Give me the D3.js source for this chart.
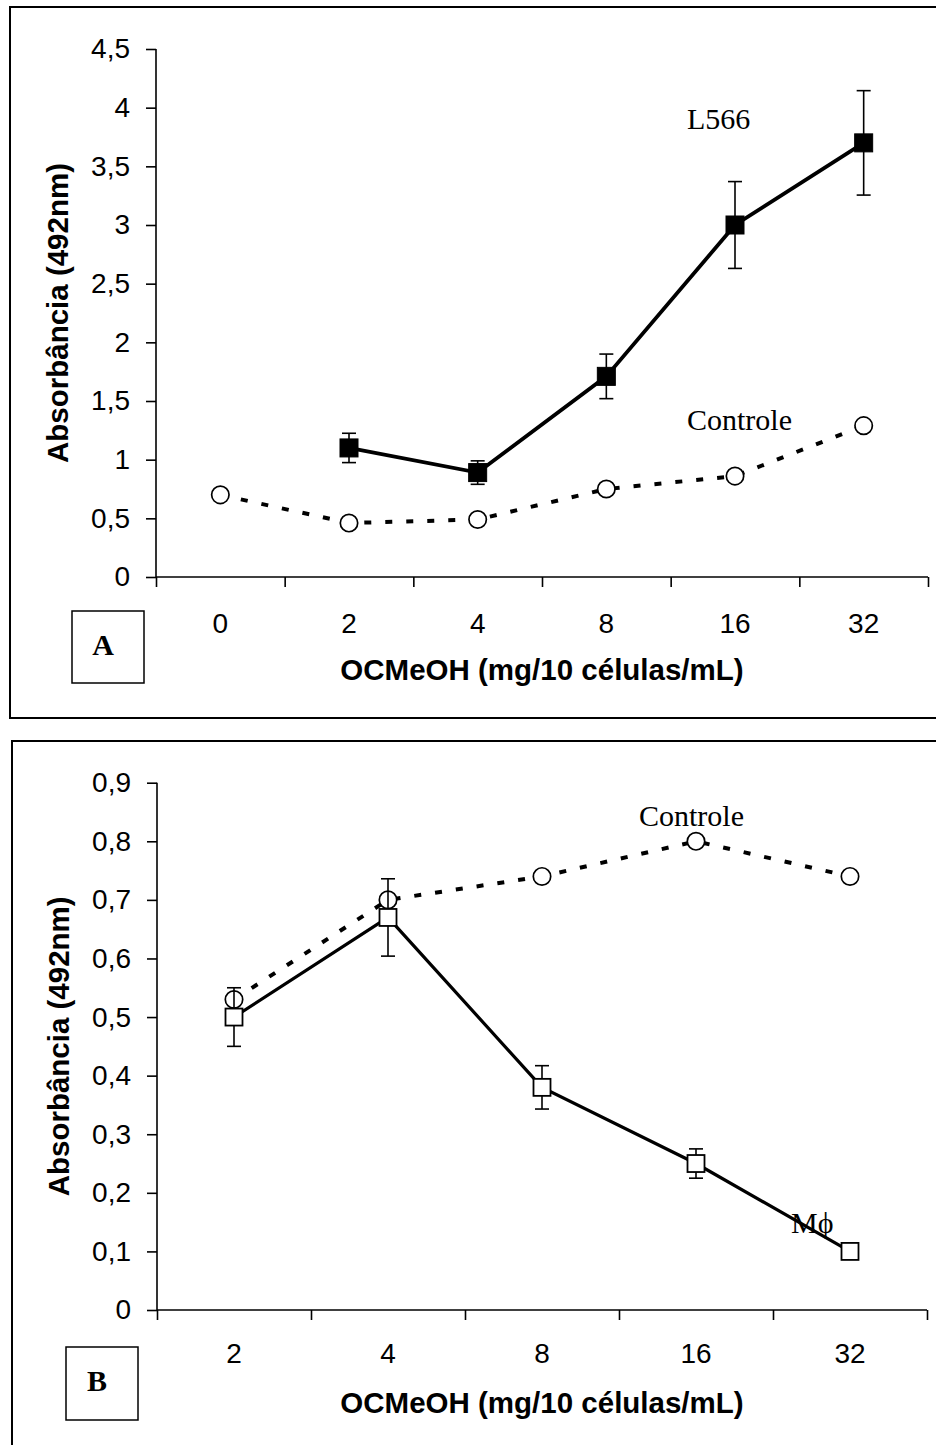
<!DOCTYPE html>
<html>
<head>
<meta charset="utf-8">
<script src="https://cdn.jsdelivr.net/npm/d3@7"></script>
<style>
  html, body { margin: 0; padding: 0; background: #fff; }
  svg { display: block; }
</style>
</head>
<body>
<svg id="fig" width="936" height="1445"></svg>
<script>
// ---- Panel A: L566 cells ----
const catsA = ["0", "2", "4", "8", "16", "32"];
const controleA = [0.70, 0.46, 0.49, 0.75, 0.86, 1.29];
const l566Cats = ["2", "4", "8", "16", "32"];
const l566 = [1.10, 0.89, 1.71, 3.00, 3.70];
const l566Err = [0.125, 0.10, 0.19, 0.37, 0.445];
const yTicksA = [0, 0.5, 1, 1.5, 2, 2.5, 3, 3.5, 4, 4.5];

// ---- Panel B: macrophages ----
const catsB = ["2", "4", "8", "16", "32"];
const controleB = [0.53, 0.70, 0.74, 0.80, 0.74];
const mphi = [0.50, 0.67, 0.38, 0.25, 0.10];
const mphiErr = [0.05, 0.066, 0.037, 0.025, 0];
const yTicksB = [0, 0.1, 0.2, 0.3, 0.4, 0.5, 0.6, 0.7, 0.8, 0.9];

const yTitle = "Absorbância (492nm)";
const xTitle = "OCMeOH (mg/10 células/mL)";

const ptFormat = d3.formatLocale({decimal: ",", thousands: ".", grouping: [3], currency: ["", ""]}).format("~g");

const SANS = "'Liberation Sans', Arial, Helvetica, sans-serif";
const SERIF = "'Liberation Serif', 'Times New Roman', Times, serif";

const svg = d3.select("#fig");

function drawPanel(cfg) {
  const g = svg.append("g");

  // outer frame
  g.append("rect")
    .attr("x", cfg.frame[0]).attr("y", cfg.frame[1])
    .attr("width", cfg.frame[2] - cfg.frame[0]).attr("height", cfg.frame[3] - cfg.frame[1])
    .attr("fill", "none").attr("stroke", "#000").attr("stroke-width", 2);

  const x = d3.scaleBand().domain(cfg.cats).range([cfg.x0, cfg.x1]).paddingInner(0).paddingOuter(0);
  const xEdge = d3.scaleLinear().domain([0, cfg.cats.length]).range([cfg.x0, cfg.x1]);
  const y = d3.scaleLinear().domain([0, cfg.yMax]).range([cfg.yBottom, cfg.yTop]);
  const cx = c => x(c) + x.bandwidth() / 2;

  // y axis
  const ya = g.append("g").attr("transform", `translate(${cfg.x0},0)`)
    .call(d3.axisLeft(y).tickValues(cfg.yTicks).tickSize(10).tickPadding(16).tickFormat(ptFormat));
  ya.selectAll("path, line").attr("stroke", "#000").attr("stroke-width", 1.6);
  ya.select(".domain").attr("d", `M0,${cfg.yTop}V${cfg.yBottom}`);
  ya.selectAll("text").attr("font-family", SANS).attr("font-size", 28).attr("fill", "#000");

  // x axis: ticks between categories
  const xa = g.append("g").attr("transform", `translate(0,${cfg.yBottom})`)
    .call(d3.axisBottom(xEdge).tickValues(d3.range(cfg.cats.length + 1)).tickSize(10).tickFormat(""));
  xa.selectAll("path, line").attr("stroke", "#000").attr("stroke-width", 1.6);
  xa.select(".domain").attr("d", `M${cfg.x0},0H${cfg.x1}`);

  // x category labels
  const xl = g.append("g").attr("transform", `translate(0,${cfg.yBottom})`)
    .call(d3.axisBottom(x).tickSize(0));
  xl.select(".domain").remove();
  xl.selectAll("text")
    .attr("y", cfg.xLabelBase - cfg.yBottom).attr("dy", null)
    .attr("font-family", SANS).attr("font-size", 28).attr("fill", "#000");

  // axis titles
  g.append("text")
    .attr("transform", `translate(${cfg.yTitleX},${(cfg.yTop + cfg.yBottom) / 2}) rotate(-90)`)
    .attr("text-anchor", "middle")
    .attr("font-family", SANS).attr("font-weight", "bold").attr("font-size", 29.5)
    .text(yTitle);
  g.append("text")
    .attr("x", (cfg.x0 + cfg.x1) / 2).attr("y", cfg.xTitleBase)
    .attr("text-anchor", "middle")
    .attr("font-family", SANS).attr("font-weight", "bold").attr("font-size", 29.5)
    .text(xTitle);

  // panel letter box
  g.append("rect")
    .attr("x", cfg.box[0]).attr("y", cfg.box[1]).attr("width", cfg.box[2]).attr("height", cfg.box[3])
    .attr("fill", "#fff").attr("stroke", "#000").attr("stroke-width", 1.5);
  g.append("text")
    .attr("x", cfg.box[0] + 31).attr("y", cfg.box[1] + 44)
    .attr("text-anchor", "middle")
    .attr("font-family", SERIF).attr("font-weight", "bold").attr("font-size", 30)
    .text(cfg.letter);

  return {g, x, y, cx};
}

function dashedSeries(p, cats, vals) {
  const pts = cats.map((c, i) => [p.cx(c), p.y(vals[i])]);
  p.g.append("path")
    .attr("d", d3.line()(pts))
    .attr("fill", "none").attr("stroke", "#000").attr("stroke-width", 4)
    .attr("stroke-dasharray", "7,14");
  p.g.selectAll(null).data(pts).join("circle")
    .attr("cx", d => d[0]).attr("cy", d => d[1]).attr("r", 8.7)
    .attr("fill", "#fff").attr("stroke", "#000").attr("stroke-width", 1.7);
}

function solidSeries(p, cats, vals, errs, filled, size, width) {
  const pts = cats.map((c, i) => [p.cx(c), p.y(vals[i])]);
  p.g.append("path")
    .attr("d", d3.line()(pts))
    .attr("fill", "none").attr("stroke", "#000").attr("stroke-width", width);
  // error bars
  const eb = p.g.selectAll(null).data(cats.map((c, i) => ({c, v: vals[i], e: errs[i]})).filter(d => d.e > 0))
    .join("g");
  eb.append("line")
    .attr("x1", d => p.cx(d.c)).attr("x2", d => p.cx(d.c))
    .attr("y1", d => p.y(d.v + d.e)).attr("y2", d => p.y(d.v - d.e))
    .attr("stroke", "#000").attr("stroke-width", 1.6);
  [1, -1].forEach(s => {
    eb.append("line")
      .attr("x1", d => p.cx(d.c) - 7).attr("x2", d => p.cx(d.c) + 7)
      .attr("y1", d => p.y(d.v + s * d.e)).attr("y2", d => p.y(d.v + s * d.e))
      .attr("stroke", "#000").attr("stroke-width", 1.6);
  });
  p.g.selectAll(null).data(pts).join("rect")
    .attr("x", d => d[0] - size / 2).attr("y", d => d[1] - size / 2)
    .attr("width", size).attr("height", size)
    .attr("fill", filled ? "#000" : "#fff").attr("stroke", "#000").attr("stroke-width", filled ? 1 : 1.8);
}

function label(p, txt, xPos, yPos) {
  p.g.append("text").attr("x", xPos).attr("y", yPos)
    .attr("font-family", SERIF).attr("font-size", 30).text(txt);
}

// Panel A
const pA = drawPanel({
  frame: [10, 7, 937, 718],
  cats: catsA, x0: 156, x1: 928,
  yMax: 4.5, yTicks: yTicksA, yTop: 49, yBottom: 577,
  xLabelBase: 633, xTitleBase: 680, yTitleX: 68,
  box: [72, 611, 72, 72], letter: "A"
});
dashedSeries(pA, catsA, controleA);
solidSeries(pA, l566Cats, l566, l566Err, true, 18, 3.8);
label(pA, "L566", 687, 129);
label(pA, "Controle", 687, 430);

// Panel B
const pB = drawPanel({
  frame: [12, 741, 937, 1450],
  cats: catsB, x0: 157, x1: 927,
  yMax: 0.9, yTicks: yTicksB, yTop: 782.7, yBottom: 1310,
  xLabelBase: 1363, xTitleBase: 1413, yTitleX: 69,
  box: [66, 1347, 72, 73], letter: "B"
});
dashedSeries(pB, catsB, controleB);
solidSeries(pB, catsB, mphi, mphiErr, false, 17, 3.2);
label(pB, "Controle", 639, 826);
label(pB, "M\u03D5", 791, 1233);
</script>
</body>
</html>
